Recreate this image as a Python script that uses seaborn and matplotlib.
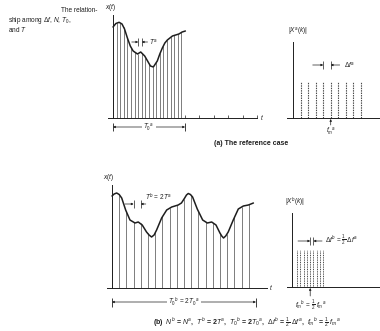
import matplotlib
matplotlib.use("Agg")
import matplotlib.pyplot as plt
import seaborn as sns

# ---------------- data ----------------
# (a) reference case: continuous signal (time in units of T^a)
curve_a_t = [0, 0.8, 1.7, 2.5, 3.2, 4.0, 4.8, 5.6, 6.8, 7.7, 8.8, 9.6, 10.4, 11.2, 12.3,
             13.0, 13.7, 14.4, 15.1, 16.5, 18.3, 19.2, 20.1]
curve_a_x = [0.91, 0.945, 0.957, 0.94, 0.89, 0.80, 0.72, 0.67, 0.64, 0.66, 0.62, 0.57, 0.52,
             0.51, 0.57, 0.64, 0.70, 0.75, 0.78, 0.82, 0.84, 0.86, 0.87]
# (a) samples, N = 20 at spacing T^a
samples_a_t = [0, 1, 2, 3, 4, 5, 6, 7, 8, 9, 10, 11, 12, 13, 14, 15, 16, 17, 18, 19]
samples_a_x = [0.91, 0.95, 0.95, 0.91, 0.80, 0.70, 0.66, 0.64, 0.65, 0.60,
               0.54, 0.51, 0.56, 0.65, 0.72, 0.78, 0.81, 0.83, 0.84, 0.86]
# (a) spectrum |X^a(k)|
spec_a_k = [0, 1, 2, 3, 4, 5, 6, 7, 8]
spec_a_mag = [0.36, 0.36, 0.36, 0.36, 0.36, 0.36, 0.36, 0.36, 0.36]

# (b) continuous signal over twice the duration
curve_b_t = [0, 0.6, 1.3, 2.0, 2.7, 3.8, 5.0, 6.4, 7.3, 8.4, 9.6, 10.3, 11.0, 11.7, 12.4,
             13.8, 15.2, 16.6, 18.4, 19.3, 20.2, 20.7, 21.2, 21.8, 22.4, 23.7, 25.2, 26.5,
             27.7, 28.9, 30.0, 30.5, 31.0, 31.6, 32.3, 33.7, 35.1, 36.5, 37.9, 39.3]
curve_b_x = [0.92, 0.94, 0.95, 0.935, 0.90, 0.78, 0.68, 0.65, 0.66, 0.63, 0.56, 0.53, 0.51,
             0.53, 0.58, 0.70, 0.78, 0.81, 0.83, 0.85, 0.90, 0.93, 0.945, 0.935, 0.91, 0.79,
             0.68, 0.65, 0.66, 0.63, 0.55, 0.52, 0.50, 0.52, 0.56, 0.68, 0.79, 0.82, 0.83, 0.85]
# (b) samples, N = 20 at spacing T^b = 2T^a
samples_b_t = [0, 2, 4, 6, 8, 10, 12, 14, 16, 18, 20, 22, 24, 26, 28, 30, 32, 34, 36, 38]
samples_b_x = [0.92, 0.935, 0.76, 0.66, 0.65, 0.55, 0.56, 0.72, 0.80, 0.83,
               0.89, 0.93, 0.77, 0.66, 0.65, 0.55, 0.54, 0.71, 0.81, 0.84]
# (b) spectrum |X^b(k)|
spec_b_k = [0, 1, 2, 3, 4, 5, 6, 7, 8]
spec_b_mag = [0.37, 0.37, 0.37, 0.37, 0.37, 0.37, 0.37, 0.37, 0.37]

# ---------------- style ----------------
sns.set_theme(style="white")
plt.rcParams["font.family"] = ["Liberation Sans", "DejaVu Sans"]
plt.rcParams["mathtext.fontset"] = "custom"
plt.rcParams["mathtext.it"] = "Liberation Sans:italic"
plt.rcParams["mathtext.rm"] = "Liberation Sans"
INK = "#1e1e1e"
GRAY = "#4a4a4a"
FS = 4.7
FSC = 5.0
LW = 0.55

W, H = 380, 331
fig = plt.figure(figsize=(W / 100, H / 100), dpi=100)
fig.patch.set_facecolor("white")


def px_axes(x0, y0, x1, y1):
    ax = fig.add_axes([x0 / W, 1 - y1 / H, (x1 - x0) / W, (y1 - y0) / H])
    ax.set_facecolor("none")
    for s in ("top", "right"):
        ax.spines[s].set_visible(False)
    ax.set_xticks([])
    ax.set_yticks([])
    return ax


def axis_lines(ax, x0, xl, xr, ytop, ybot=0.0):
    for s in ("left", "bottom"):
        ax.spines[s].set_color(INK)
        ax.spines[s].set_linewidth(0.7)
    ax.spines["left"].set_position(("data", x0))
    ax.spines["left"].set_bounds(ybot, ytop)
    ax.spines["bottom"].set_position(("data", 0))
    ax.spines["bottom"].set_bounds(xl, xr)


def gap_marker(ax, xl, xr, y, h, lfrom, rfrom):
    ax.vlines([xl, xr], y - h, y + h, color=INK, lw=0.5)
    ap = dict(arrowstyle="-|>", lw=0.5, color=INK, mutation_scale=3, shrinkA=0, shrinkB=0)
    ax.annotate("", xy=(xl, y), xytext=(lfrom, y), arrowprops=ap)
    ax.annotate("", xy=(xr, y), xytext=(rfrom, y), arrowprops=ap)


def dimension(ax, x0, x1, y, h, label):
    ax.vlines([x0, x1], y - h, y + h, color=INK, lw=0.6)
    ap = dict(arrowstyle="<|-|>", lw=0.5, color=INK, mutation_scale=3, shrinkA=0, shrinkB=0)
    ax.annotate("", xy=(x0, y), xytext=(x1, y), arrowprops=ap)
    ax.text((x0 + x1) / 2, y, label, ha="center", va="center", fontsize=FS, color=INK,
            bbox=dict(fc="white", ec="none", pad=0.8))


def up_arrow(ax, x, y0, y1):
    ax.annotate("", xy=(x, y1), xytext=(x, y0),
                arrowprops=dict(arrowstyle="-|>", lw=0.5, color=INK, mutation_scale=3,
                                shrinkA=0, shrinkB=0))


# ---------------- (a) time signal ----------------
axa = px_axes(100, 8, 270, 150)
axa.set_xlim(-3.61, 43.6)
axa.set_ylim(-0.32, 1.10)
axis_lines(axa, 0, -1.4, 40, 1.03)
axa.set_xticks([20, 24, 28, 32, 36, 40])
axa.set_xticklabels([])
axa.tick_params(axis="x", direction="in", length=2.5, width=0.5, color=INK, bottom=True)
axa.vlines(samples_a_t, 0, samples_a_x, color=GRAY, lw=0.5)
sns.lineplot(x=curve_a_t, y=curve_a_x, ax=axa, color=INK, lw=1.1, sort=False)
axa.text(-0.8, 1.05, "$x(t)$", fontsize=FS, ha="center", va="bottom", color=INK)
axa.text(40.8, 0, "$t$", fontsize=FS, ha="left", va="center", color=INK)
gap_marker(axa, 7, 8, 0.76, 0.04, 5.2, 9.6)
axa.text(9.9, 0.76, "$T^a$", fontsize=FS, ha="left", va="center", color=INK)
dimension(axa, 0, 20, -0.09, 0.04, "$T_0{}^a$")

# ---------------- (a) spectrum ----------------
axsa = px_axes(280, 25, 380, 140)
axsa.set_xlim(-2.76, 10.57)
axsa.set_ylim(-0.22, 0.93)
axis_lines(axsa, -1.03, -1.83, 10.57, 0.76)
axsa.vlines(spec_a_k, 0, spec_a_mag, color=GRAY, lw=0.8, linestyles=(0, (1.3, 0.9)))
axsa.text(-0.4, 0.80, "$|X^a(k)|$", fontsize=FS, ha="center", va="bottom", color=INK)
gap_marker(axsa, 3, 4, 0.53, 0.04, 1.6, 5.2)
axsa.text(5.8, 0.53, "$\\Delta f^a$", fontsize=FS, ha="left", va="center", color=INK)
up_arrow(axsa, 4, -0.07, -0.01)
axsa.text(4, -0.08, "$f_m{}^a$", fontsize=FS, ha="center", va="top", color=INK)

fig.text(251 / W, 1 - 143 / H, "(a) The reference case", fontsize=FSC, ha="center",
         va="center", color=INK, fontweight="bold")

# ---------------- (b) time signal ----------------
axb = px_axes(100, 175, 275, 310)
axb.set_xlim(-3.33, 45.3)
axb.set_ylim(-0.22, 1.13)
axis_lines(axb, 0, -1.4, 43, 1.03)
axb.vlines(samples_b_t, 0, samples_b_x, color=GRAY, lw=0.5)
sns.lineplot(x=curve_b_t, y=curve_b_x, ax=axb, color=INK, lw=1.1, sort=False)
axb.text(-0.9, 1.05, "$x(t)$", fontsize=FS, ha="center", va="bottom", color=INK)
axb.text(43.6, 0, "$t$", fontsize=FS, ha="left", va="center", color=INK)
gap_marker(axb, 6, 8, 0.84, 0.04, 3.6, 9.4)
axb.text(9.3, 0.91, "$T^b$ = 2$T^a$", fontsize=FS, ha="left", va="center", color=INK)
dimension(axb, 0, 40, -0.14, 0.045, "$T_0{}^b$ = 2$T_0{}^a$")

# ---------------- (b) spectrum ----------------
axsb = px_axes(280, 195, 380, 320)
axsb.set_xlim(-5.15, 25.15)
axsb.set_ylim(-0.33, 0.92)
axis_lines(axsb, -1.5, -3.03, 25.15, 0.74)
axsb.vlines(spec_b_k, 0, spec_b_mag, color=GRAY, lw=0.7, linestyles=(0, (1.0, 0.8)))
axsb.text(-0.6, 0.78, "$|X^b(k)|$", fontsize=FS, ha="center", va="bottom", color=INK)
gap_marker(axsb, 4, 5, 0.46, 0.04, 0.3, 7.6)
axsb.text(8.4, 0.46, "$\\Delta f^b$ = $\\frac{1}{2}$ $\\Delta f^a$", fontsize=FS,
          ha="left", va="center", color=INK)
up_arrow(axsb, 4, -0.09, -0.01)
axsb.text(4, -0.12, "$f_m{}^b$ = $\\frac{1}{2}$ $f_m{}^a$", fontsize=FS, ha="center",
          va="top", color=INK)

fig.text(247 / W, 1 - 323 / H,
         "(b)  $N^b$ = $N^a$,  $T^b$ = 2$T^a$,  $T_0{}^b$ = 2$T_0{}^a$,  "
         "$\\Delta f^b$ = $\\frac{1}{2}$ $\\Delta f^a$,  $f_m{}^b$ = $\\frac{1}{2}$ $f_m{}^a$",
         fontsize=FSC, ha="center", va="center", color=INK, fontweight="bold")

# ---------------- side note ----------------
fig.text(97 / W, 1 - 11 / H, "The relation-", fontsize=FS, ha="right", va="center", color=INK)
fig.text(8 / W, 1 - 20 / H, "ship among $\\Delta f$, $N$, $T_0$,", fontsize=FS, ha="left",
         va="center", color=INK)
fig.text(8 / W, 1 - 29 / H, "and $T$", fontsize=FS, ha="left", va="center", color=INK)

fig.savefig("out.png", dpi=100, facecolor="white")
